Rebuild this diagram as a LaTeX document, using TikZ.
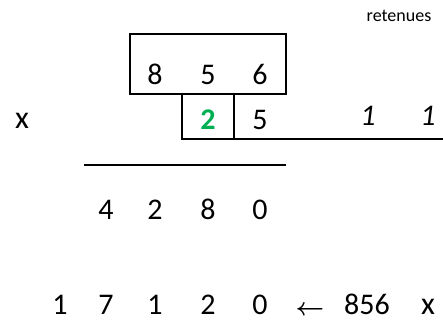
\documentclass[tikz,border=0pt]{standalone}
\usepackage{fontspec}
\setmainfont{Carlito}
\usepackage{tikz}
\usepackage{xcolor}
\definecolor{officegreen}{RGB}{0,176,80}

\tikzset{
  digit/.style={anchor=base, inner sep=0pt, font=\fontsize{30}{36}\selectfont},
  carry/.style={digit, font=\fontsize{30}{36}\selectfont\itshape},
  small/.style={anchor=base, inner sep=0pt, font=\fontsize{18}{22}\selectfont},
  rule/.style={line width=1.6pt}
}

\begin{document}
\begin{tikzpicture}[x=1pt, y=-1pt]
            \useasboundingbox (0,0) rectangle (443,322);

            % Draw boxes
            \draw[rule] (130,34) rectangle (286,94);
            \draw[rule] (182,94) -- (182,139) -- (443,139);
            \draw[rule] (234,94) -- (234,139);
            \draw[rule] (84,165) -- (286,165);

            % Carries
            \node[small] (ret) at (399,21) {retenues};
            \node[carry] (ca) at (368,125) {1};
            \node[carry] (cb) at (428,125) {1};

            % Top factor
            \node[digit] (ta) at (155,84) {8};
            \node[digit] (tb) at (208,84) {5};
            \node[digit] (tc) at (260,84) {6};

            % Second factor
            \node[digit, font=\fontsize{32}{38}\selectfont] (times) at (22,128) {x};
            \node[digit, font=\fontsize{30}{36}\selectfont\bfseries, text=officegreen] (fa) at (208,129) {2};
            \node[digit] (fb) at (260,129) {5};

            % First partial product
            \node[digit] (pa) at (106,219) {4};
            \node[digit] (pb) at (155,219) {2};
            \node[digit] (pc) at (208,219) {8};
            \node[digit] (pd) at (260,219) {0};

            % Second partial product
            \node[digit] (qa) at (60,314) {1};
            \node[digit] (qb) at (106,314) {7};
            \node[digit] (qc) at (155,314) {1};
            \node[digit] (qd) at (208,314) {2};
            \node[digit] (qe) at (260,314) {0};
            \node[digit, font=\fontsize{34}{38}\selectfont\boldmath] (arr) at (310,315) {$\leftarrow$};
            \node[digit] (num) at (367,314) {856};
            \node[digit, font=\fontsize{32}{38}\selectfont] (by) at (428,314) {x};
          \end{tikzpicture}
\end{document}
